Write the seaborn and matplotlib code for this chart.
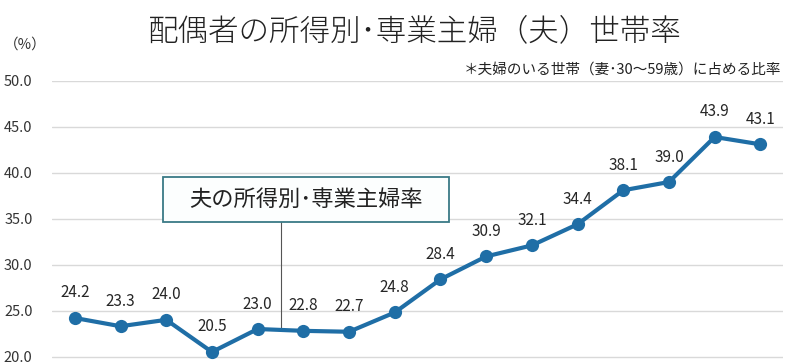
import pandas as pd
import seaborn as sns
import matplotlib.pyplot as plt
from matplotlib.patches import Rectangle

# values (x-axis labels are cropped out)
rates = [24.2, 23.3, 24.0, 20.5, 23.0, 22.8, 22.7, 24.8,
         28.4, 30.9, 32.1, 34.4, 38.1, 39.0, 43.9, 43.1]
positions = list(range(len(rates)))
yticks = [20, 25, 30, 35, 40, 45, 50]

title = '配偶者の所得別･専業主婦（夫）世帯率'
note = '＊夫婦のいる世帯（妻･30～59歳）に占める比率'
series_name = '夫の所得別･専業主婦率'

df = pd.DataFrame({'pos': positions, 'rate': rates})

sns.set_style('white')
plt.rcParams['font.family'] = ['Noto Sans CJK JP', 'DejaVu Sans']

fig = plt.figure(figsize=(8, 3.63), dpi=100)
ax = fig.add_axes([0.065, 0.0, 0.914, 0.777])

line_color = '#1f6ea6'
sns.lineplot(data=df, x='pos', y='rate', ax=ax, color=line_color, linewidth=3,
             marker='o', markersize=9.5, markeredgewidth=0)

for x, y in zip(df['pos'], df['rate']):
    ax.annotate(f'{y:.1f}', (x, y), xytext=(0, 18), textcoords='offset points',
                ha='center', va='center', fontsize=11, color='#262626')

ax.set_xlim(-0.5, 15.5)
ax.set_ylim(19.3, 50)
ax.set_yticks(yticks)
ax.set_yticklabels([f'{v:.1f}' for v in yticks], fontsize=10.5, color='#333333')
ax.tick_params(axis='y', length=0, pad=14)
ax.set_xticks([])
ax.grid(axis='y', color='#d9d9d9', linewidth=1)
ax.set_axisbelow(True)
for s in ax.spines.values():
    s.set_visible(False)
ax.set_xlabel('')
ax.set_ylabel('')

# callout box with leader line
ax.plot([4.5, 4.5], [23.1, 34.6], color='#555555', linewidth=0.8, zorder=1)
ax.add_patch(Rectangle((1.93, 34.62), 6.25, 4.9, facecolor='#fcfefe',
                       edgecolor='#3a7a86', linewidth=1.3, zorder=3))
ax.text(5.05, 37.07, series_name, ha='center', va='center', fontsize=16,
        color='#222222', zorder=4)

fig.text(0.518, 0.915, title, ha='center', va='center', fontsize=22,
         color='#222222', fontweight='light')
fig.text(0.977, 0.807, note, ha='right', va='center', fontsize=10.5, color='#222222')
fig.text(0.031, 0.876, '（%）', ha='center', va='center', fontsize=10.5, color='#333333')

fig.savefig('out.png', dpi=100)
